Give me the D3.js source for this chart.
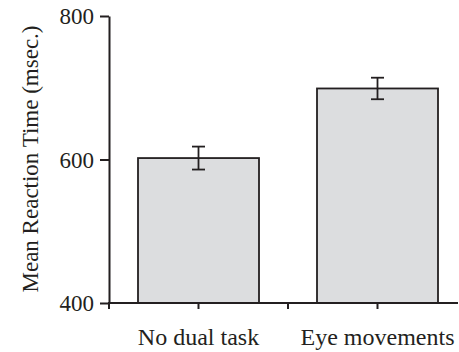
<!DOCTYPE html>
<html><head><meta charset="utf-8">
<script src="https://cdn.jsdelivr.net/npm/d3@7"></script>
<style>body{margin:0;background:#fff}svg{display:block}</style>
</head><body>
<script>
const categories = ["No dual task", "Eye movements"];
const means = [602, 699];
const errors = [16, 15];
const yTicks = [400, 600, 800];

const W = 459, H = 352;
const ink = "#231f20";
const svg = d3.select("body").append("svg").attr("width", W).attr("height", H);

const x = d3.scaleBand().domain(categories).range([109, 467]).paddingInner(0).paddingOuter(0);
const y = d3.scaleLinear().domain([400, 800]).range([303, 16]);
const font = "'Liberation Serif', 'Times New Roman', serif";

// bars
const barW = 121;
svg.selectAll("rect.bar").data(categories).join("rect")
  .attr("x", d => x(d) + x.bandwidth()/2 - barW/2)
  .attr("y", (d,i) => y(means[i]))
  .attr("width", barW)
  .attr("height", (d,i) => y(400) - y(means[i]))
  .attr("fill", "#dcdddf").attr("stroke", ink).attr("stroke-width", 1.8);

// error bars
const g = svg.append("g").attr("stroke", ink).attr("stroke-width", 1.8);
categories.forEach((c, i) => {
  const cx = x(c) + x.bandwidth()/2;
  const t = y(means[i] + errors[i]), b = y(means[i] - errors[i]);
  g.append("line").attr("x1", cx).attr("x2", cx).attr("y1", t).attr("y2", b);
  g.append("line").attr("x1", cx-6.5).attr("x2", cx+6.5).attr("y1", t).attr("y2", t);
  g.append("line").attr("x1", cx-6.5).attr("x2", cx+6.5).attr("y1", b).attr("y2", b);
});

// y axis
const ya = svg.append("g").attr("transform", "translate(109,0)")
  .call(d3.axisLeft(y).tickValues(yTicks).tickSize(9).tickPadding(6).tickSizeOuter(0));
ya.select(".domain").attr("stroke", ink).attr("stroke-width", 2);
ya.selectAll(".tick line").attr("stroke", ink).attr("stroke-width", 2);
ya.selectAll(".tick text").attr("font-family", font).attr("font-size", 23).attr("fill", ink).attr("dy", "0.34em");

// x axis
svg.append("line").attr("x1", 108).attr("x2", 458).attr("y1", 303).attr("y2", 303)
  .attr("stroke", ink).attr("stroke-width", 2);
const xt = [x.range()[0], x(categories[1])];
const xc = categories.map(c => x(c) + x.bandwidth()/2);
svg.selectAll("line.xt").data(xt.concat(xc)).join("line")
  .attr("x1", d => d).attr("x2", d => d).attr("y1", 303).attr("y2", 309)
  .attr("stroke", ink).attr("stroke-width", 2);
svg.selectAll("text.xl").data(categories).join("text")
  .attr("x", d => x(d) + x.bandwidth()/2).attr("y", 345)
  .attr("text-anchor", "middle").attr("font-family", font).attr("font-size", 24).attr("fill", ink)
  .text(d => d);

// y label
svg.append("text").attr("transform", "translate(38,159) rotate(-90)")
  .attr("text-anchor", "middle").attr("font-family", font).attr("font-size", 23).attr("fill", ink)
  .text("Mean Reaction Time (msec.)");
</script>
</body></html>
